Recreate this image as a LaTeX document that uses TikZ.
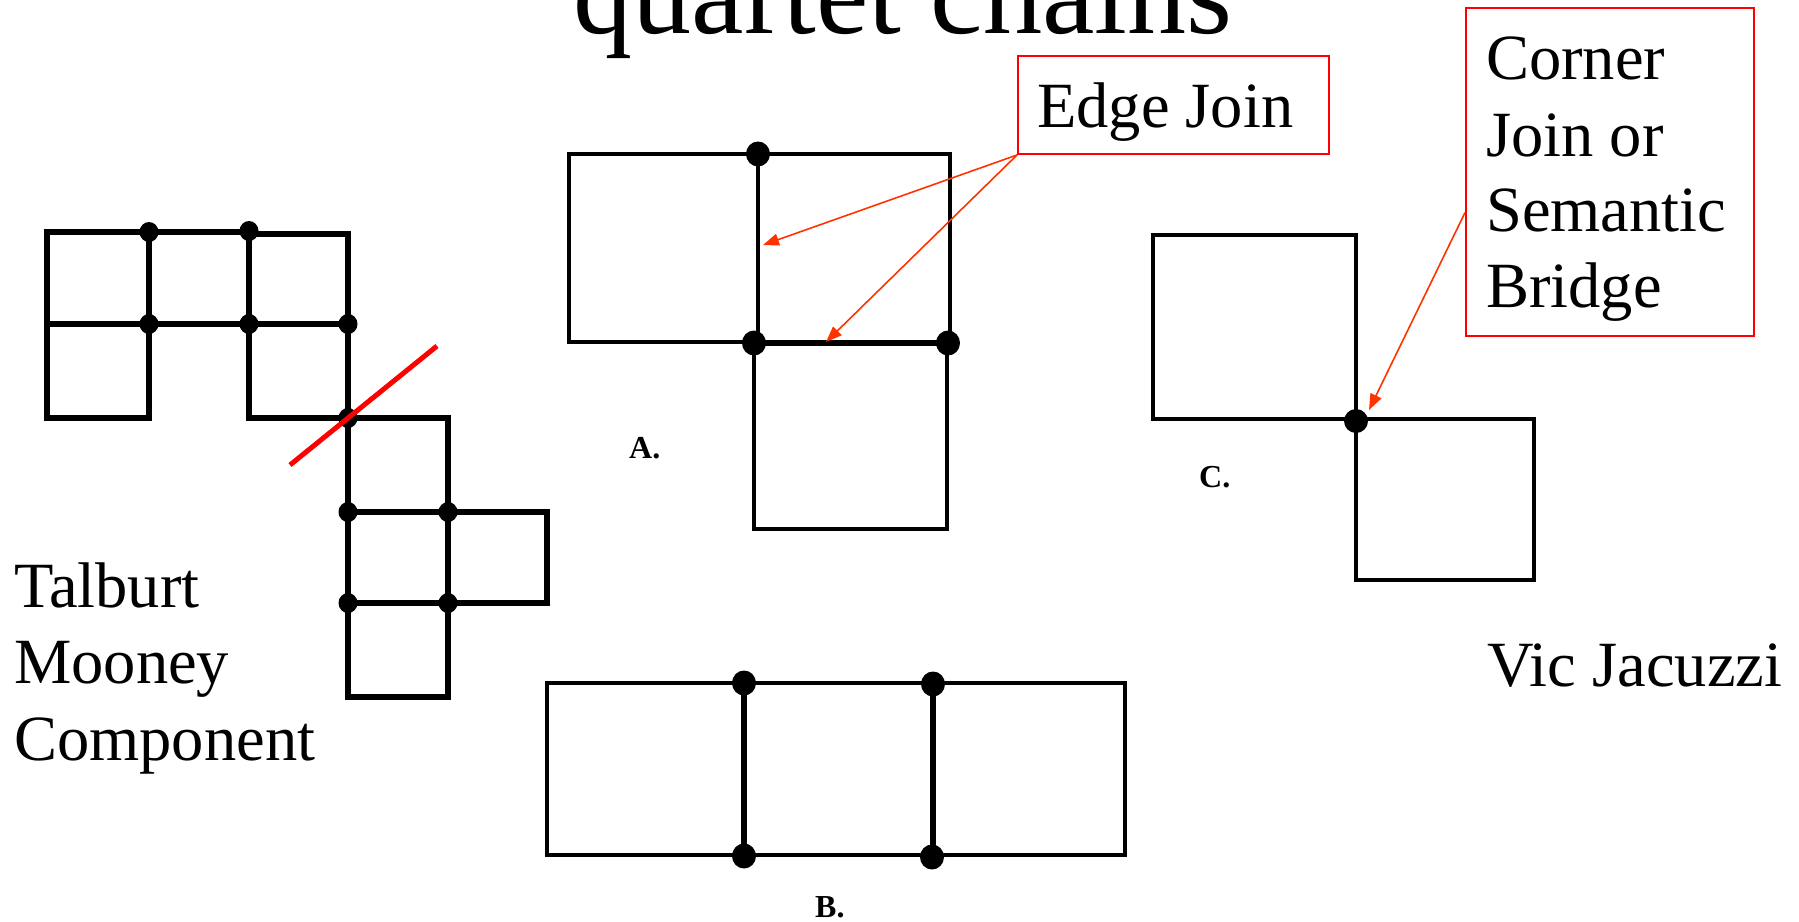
\documentclass[tikz,border=0pt]{standalone}
\usepackage{fontspec}
\setmainfont{Liberation Serif}
\usetikzlibrary{arrows.meta,calc}
\definecolor{arrowred}{HTML}{FF3300}
\definecolor{boxred}{HTML}{FF0000}
\tikzset{
  big/.style={font=\fontsize{64.5}{76}\selectfont, inner sep=0pt, anchor=base west},
  lbl/.style={font=\fontsize{32}{36}\selectfont\bfseries, inner sep=0pt, anchor=base west},
  talb/.style={line width=5.2pt, line join=miter},
  thinline/.style={line width=3.2pt, line join=miter},
  thickline/.style={line width=6pt},
  blackdot/.style={fill=black},
  redbox/.style={draw=boxred, line width=2pt, inner sep=0pt, anchor=north west},
  pointer/.style={draw=arrowred, line width=1.6pt, -{Triangle[length=16pt,width=12pt]}},
  slash/.style={draw=boxred, line width=5pt},
}
\begin{document}
\begin{tikzpicture}[x=1pt,y=-1pt]
\useasboundingbox (0,0) rectangle (1799,921);
\clip (0,0) rectangle (1799,921);

% title (cut at top, as in the reference)
\node[font=\fontsize{118}{120}\selectfont, inner sep=0pt, anchor=base] (title) at (903,33) {quartet chains};

% Talburt Mooney component
\draw[talb] (47,232) rectangle (149,324);
\draw[talb] (47,324) rectangle (149,418);
\draw[talb] (149,232) rectangle (249,324);
\draw[talb] (249,234) rectangle (348,324);
\draw[talb] (249,324) rectangle (348,418);
\draw[talb] (348,418) rectangle (448,512);
\draw[talb] (348,512) rectangle (448,603);
\draw[talb] (448,512) rectangle (547,603);
\draw[talb] (348,603) rectangle (448,697);
\foreach \p in {(149,232),(249,231),(149,324),(249,324),(348,324),(348,418),(348,512),(448,512),(348,603),(448,603)}
  \fill[blackdot] \p ellipse[x radius=9.5, y radius=10];
\draw[slash] (290,465) -- (437,346);

\node[big] (t1) at (14,607) {Talburt};
\node[big] (t2) at (14,683) {Mooney};
\node[big] (t3) at (14,760) {Component};

% Diagram A
\draw[thinline] (569,154) rectangle (758,342);
\draw[thinline] (758,154) rectangle (950,343);
\draw[thinline] (754,343) rectangle (947,529);
\draw[thickline] (754,343) -- (948,343);
\foreach \p in {(758,154),(754,343),(948,343)}
  \fill[blackdot] \p ellipse[x radius=12, y radius=12.5];
\node[lbl] (la) at (629,458) {A.};

% Diagram B
\draw[thinline] (547,683) rectangle (1125,855);
\draw[thickline] (744,683) -- (744,856);
\draw[thickline] (933,684) -- (933,857);
\foreach \p in {(744,683),(744,856),(933,684),(932,857)}
  \fill[blackdot] \p ellipse[x radius=12, y radius=12.5];
\node[lbl] (lb) at (815,917) {B.};

% Diagram C
\draw[thinline] (1153,235) rectangle (1356,419);
\draw[thinline] (1356,419) rectangle (1534,580);
\fill[blackdot] (1356,421) ellipse[x radius=12, y radius=12];
\node[lbl] (lc) at (1199,487) {C.};

% Edge Join callout
\node[redbox, minimum width=311pt, minimum height=98pt] (ejbox) at (1017,55) {};
\node[big] (ej) at (1037,127) {Edge Join};
\coordinate (ea1) at (763,245);
\coordinate (ea2) at (826,342);
\draw[pointer] (ejbox.south west) -- (ea1);
\draw[pointer] (ejbox.south west) -- (ea2);

% Corner Join callout
\node[redbox, minimum width=288pt, minimum height=328pt] (cbox) at (1465,7) {};
\node[big] (c1) at (1486,79) {Corner};
\node[big] (c2) at (1486,156) {Join or};
\node[big] (c3) at (1486,231) {Semantic};
\node[big] (c4) at (1486,307) {Bridge};
\coordinate (ca) at (1369,410);
\draw[pointer] ($(cbox.north west)!0.623!(cbox.south west)$) -- (ca);

% Vic Jacuzzi
\node[big] (vj) at (1487,686) {Vic Jacuzzi};
\end{tikzpicture}
\end{document}
